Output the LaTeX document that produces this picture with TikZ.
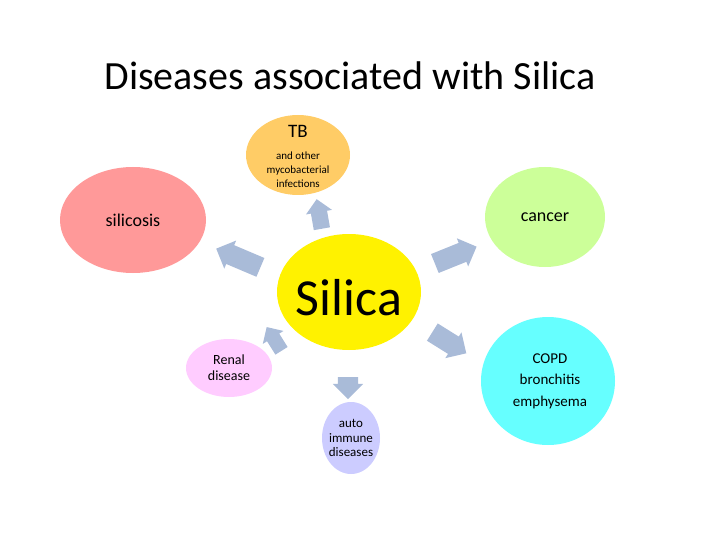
\documentclass[tikz,border=0pt]{standalone}
\usepackage{fontspec}
\setmainfont{Carlito}
\usetikzlibrary{shapes.arrows}
\definecolor{tbcol}{HTML}{FFCC66}
\definecolor{silcol}{HTML}{FF9999}
\definecolor{cancol}{HTML}{CCFF99}
\definecolor{copdcol}{HTML}{66FFFF}
\definecolor{rencol}{HTML}{FFCCFF}
\definecolor{autocol}{HTML}{CCCCFF}
\definecolor{arrcol}{HTML}{A9BBD8}
\tikzset{
  blockarrow/.style={single arrow, fill=arrcol, inner xsep=0pt, inner ysep=#1,
    single arrow head extend=5pt, single arrow tip angle=90},
}
\begin{document}
\begin{tikzpicture}[x=1pt, y=-1pt]
\useasboundingbox (0,0) rectangle (720,540);

\node[font=\fontsize{40}{46}\selectfont] at (350,76) {Diseases associated with Silica}; % title

% disease ellipses
\fill[tbcol] (298,155) ellipse [x radius=52, y radius=40];
\node[font=\fontsize{19}{22}\selectfont] (tb) at (298,131) {TB};
\node[align=center, font=\fontsize{11}{14}\selectfont] at (298,170) {and other\\mycobacterial\\infections};

\fill[silcol] (133,220) ellipse [x radius=73, y radius=53];
\node[font=\fontsize{18}{21}\selectfont] (silicosis) at (133,220) {silicosis};

\fill[cancol] (545,217) ellipse [x radius=60, y radius=50];
\node[font=\fontsize{18}{21}\selectfont] (cancer) at (545,217) {cancer};

\fill[yellow] (349,292) ellipse [x radius=72, y radius=58];
\node[font=\fontsize{52}{56}\selectfont] (silica) at (349,298) {Silica};

\fill[rencol] (229,368) ellipse [x radius=43, y radius=29];
\node[align=center, font=\fontsize{14}{16}\selectfont] (renal) at (229,368) {Renal\\disease};

\fill[copdcol] (548,381) ellipse [x radius=67, y radius=64];
\node[align=center, font=\fontsize{15}{21.5}\selectfont] (copd) at (550,381) {COPD\\bronchitis\\emphysema};

\fill[autocol] (351,438) ellipse [x radius=29, y radius=36];
\node[align=center, font=\fontsize{13}{14.5}\selectfont] (auto) at (351,438) {auto\\immune\\diseases};

% block arrows from Silica
\node[blockarrow=8pt, minimum height=30pt, rotate=100] (a1) at (320,218) {};
\node[blockarrow=10pt, minimum height=48pt, rotate=157] (a2) at (243,260) {};
\node[blockarrow=10pt, minimum height=45pt, rotate=22] (a3) at (451,257) {};
\node[blockarrow=10pt, minimum height=40pt, rotate=-32] (a4) at (445,340) {};
\node[blockarrow=7pt, minimum height=28pt, rotate=122] (a5) at (276,342) {};
\node[blockarrow=10pt, minimum height=22pt, rotate=-90] (a6) at (348,383) {};
\end{tikzpicture}
\end{document}
